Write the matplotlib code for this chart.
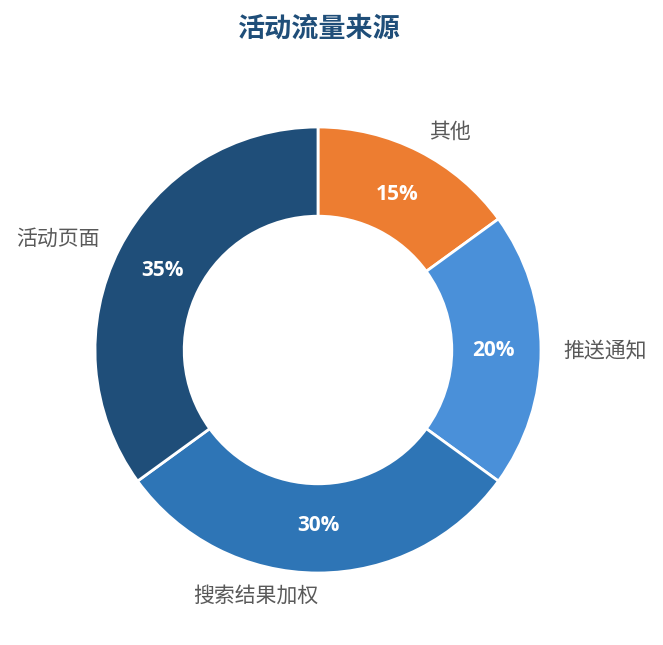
import matplotlib
matplotlib.use("Agg")
import matplotlib.pyplot as plt
import numpy as np

plt.rcParams['font.family'] = ['Noto Sans CJK SC', 'DejaVu Sans']

# data, clockwise from the top
categories = ['其他', '推送通知', '搜索结果加权', '活动页面']
shares = [15, 20, 30, 35]
colors = ['#ED7D31', '#4A90D9', '#2E75B6', '#1F4E79']

fig = plt.figure(figsize=(6.63, 6.45), dpi=100)
ax = fig.add_axes([0, 0, 1, 1])

wedges, texts, autotexts = ax.pie(
    shares, labels=categories, colors=colors, startangle=90, counterclock=False,
    radius=223, center=(318, 295), autopct='%1.0f%%', pctdistance=0.785, labeldistance=1.1,
    wedgeprops=dict(width=223 * 0.4, edgecolor='white', linewidth=2),
    textprops=dict(fontsize=15, color='#595959'))

# alignment is computed from absolute x in pie, redo it relative to the centre
for w, t in zip(wedges, texts):
    mid = np.deg2rad((w.theta1 + w.theta2) / 2)
    t.set_ha('left' if np.cos(mid) > 1e-6 else 'right')

for t in autotexts:
    t.set_color('white')
    t.set_fontsize(15)
    t.set_fontweight('bold')
    t.set_fontfamily(['Open Sans', 'DejaVu Sans'])

ax.set_xlim(0, 663)
ax.set_ylim(0, 645)
ax.set_aspect('equal')
ax.axis('off')

fig.text(0.481, 0.955, '活动流量来源', ha='center', va='center', fontsize=19.5,
         fontweight='bold', color='#1F4E79')

fig.savefig('out.png', dpi=100)
